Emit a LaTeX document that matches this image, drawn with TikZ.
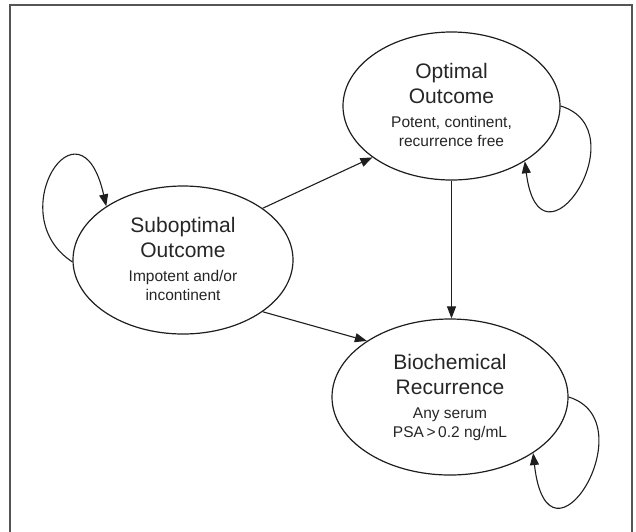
\documentclass[tikz,border=0pt]{standalone}
\usepackage{fontspec}
\setmainfont{Liberation Sans}
\usetikzlibrary{shapes.geometric,arrows.meta}
\definecolor{ink}{HTML}{1E1E1E}
\definecolor{txt}{HTML}{262626}
\definecolor{frame}{HTML}{555555}
\newcommand{\titlef}{\fontsize{21}{25}\selectfont}
\newcommand{\subf}{\fontsize{15.5}{19}\selectfont}
\newcommand{\statetext}[4]{\vbox{\offinterlineskip\halign{\hfil##\hfil\cr
  \titlef\rule[-7pt]{0pt}{25pt}#1\cr
  \titlef\rule[-7pt]{0pt}{25pt}#2\cr
  \subf\rule[-5pt]{0pt}{22pt}#3\cr
  \subf\rule[-5pt]{0pt}{19pt}#4\cr}}}
\begin{document}
\begin{tikzpicture}[x=1pt,y=-1pt,
  state/.style={ellipse,draw=ink,line width=1.2pt,inner sep=0pt,text=txt,fill=white},
  arr/.style={draw=ink,line width=1.1pt,-{Triangle[length=12pt,width=9pt]}}]
\useasboundingbox (0,0) rectangle (636,531);
\draw[frame,line width=2pt] (10,540) -- (10,5) -- (632,5) -- (632,540);
\node[state,minimum width=217pt,minimum height=148pt] (opt) at (451.5,106)
  {\statetext{Optimal}{Outcome}{Potent, continent,}{recurrence free}};
\node[state,minimum width=220pt,minimum height=148pt] (sub) at (183,260)
  {\statetext{Suboptimal}{Outcome}{Impotent and/or}{incontinent}};
\node[state,minimum width=236pt,minimum height=156pt] (bio) at (450,397)
  {\statetext{Biochemical}{Recurrence}{Any serum}{PSA\,>\,0.2 ng/mL}};
\draw[arr] (sub.33.5) -- (opt.213.5);
\draw[arr] (sub.-33.9) -- (bio.146.5);
\draw[arr] (opt.south) -- (opt.south |- bio.north);
\draw[arr] (sub.181) .. controls (0,215) and (80,90) .. (sub.145);
\draw[arr] (opt.east) .. controls (640,130) and (540,282) .. (opt.-37);
\draw[arr] (bio.east) .. controls (648,421) and (548,585) .. (bio.-34.5);
\end{tikzpicture}
\end{document}
